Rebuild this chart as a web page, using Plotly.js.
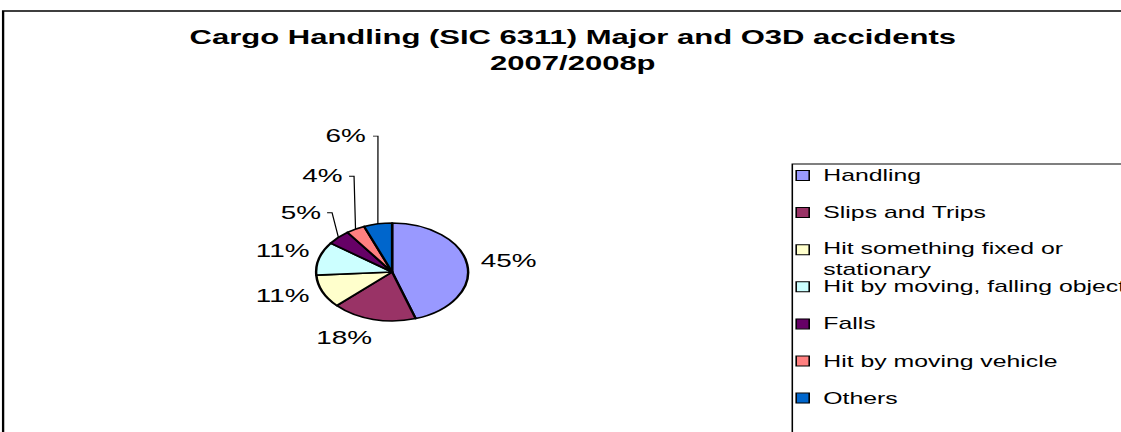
<!DOCTYPE html>
<html><head><meta charset="utf-8">
<script src="https://cdn.plot.ly/plotly-3.0.1.min.js"></script>
<style>
html,body{margin:0;padding:0;background:#fff;overflow:hidden;}
#chart{width:723px;height:432px;transform:scaleX(1.5505);transform-origin:0 0;}
</style></head><body><div id="chart"></div>
<script>
// ---- data ----
const categories = ["Handling", "Slips and Trips", "Hit something fixed or stationary", "Hit by moving, falling object", "Falls", "Hit by moving vehicle", "Others"];
const legendLabels = ["Handling", "Slips and Trips", "Hit something fixed or<br>stationary", "Hit by moving, falling object", "Falls", "Hit by moving vehicle", "Others"];
const percentages = [45, 18, 11, 11, 5, 4, 6];
const sliceColors = ["#9999FF", "#993366", "#FFFFCC", "#CCFFFF", "#660066", "#FF8080", "#0066CC"];
const titleText = "Cargo Handling (SIC 6311) Major and O3D accidents<br>2007/2008p";

// ---- layout / style constants (unscaled px) ----
const W = 723, H = 432;
const FONT = "Liberation Sans, Arial, sans-serif";
const pieGeom = {cx: 252.9, cy: 272, r: 49};
const labelDist = [1.54, 1.48, 1.52, 1.50, 1.71, 2.16, 2.84];
const labelNudge = [0.6, 10.5, 4.4, 0.4, 0, 3.6, -1.5];
const hasLeader = [false, false, false, false, true, true, true];
const legendBox = {x: 511, y: 164};
const legendRows = {y0: 175.5, pitch: 37.1, symX: 513.5, symW: 8.4, symH: 10, textX: 528.5, lineGap: 9};

const px = x => x / W;
const py = y => 1 - y / H;

const total = percentages.reduce((a, b) => a + b, 0);
const ctx = document.createElement("canvas").getContext("2d");
ctx.font = "18px 'Liberation Sans'";

const annotations = [];
const shapes = [];

// outer chart border
shapes.push({type: "rect", xref: "paper", yref: "paper", x0: px(2), x1: 1.05, y0: -0.05, y1: py(11),
  line: {color: "#000", width: 1.5}, fillcolor: "rgba(0,0,0,0)", layer: "below"});

// pie labels and leader lines, positioned from slice mid-angles
let cum = 0;
percentages.forEach((v, i) => {
  const mid = (cum + v / 2) / total * 360;
  cum += v;
  const th = (mid + labelNudge[i]) * Math.PI / 180;
  const d = labelDist[i] * pieGeom.r;
  const lx = pieGeom.cx + d * Math.sin(th);
  const ly = pieGeom.cy - d * Math.cos(th);
  const txt = Math.round(v / total * 100) + "%";
  annotations.push({xref: "paper", yref: "paper", x: px(lx), y: py(ly), xanchor: "center", yanchor: "middle",
    text: txt, showarrow: false, font: {family: FONT, size: 18, color: "#000"}});
  if (hasLeader[i]) {
    const w = ctx.measureText(txt).width;
    const sx = lx + w / 2 + 4.3;
    const tx = sx + 3.2;
    const tm = mid * Math.PI / 180;
    const ex = pieGeom.cx + pieGeom.r * Math.sin(tm);
    const ey = pieGeom.cy - pieGeom.r * Math.cos(tm);
    shapes.push({type: "path", xref: "paper", yref: "paper",
      path: `M${px(sx)},${py(ly)} L${px(tx)},${py(ly)} L${px(ex)},${py(ey)}`,
      line: {color: "#000", width: 0.8}});
  }
});

// legend (box, swatches, text)
shapes.push({type: "rect", xref: "paper", yref: "paper", x0: px(legendBox.x), x1: 1.05, y0: -0.05, y1: py(legendBox.y),
  line: {color: "#000", width: 1}, fillcolor: "rgba(0,0,0,0)"});
legendLabels.forEach((lab, i) => {
  const yc = legendRows.y0 + i * legendRows.pitch;
  shapes.push({type: "rect", xref: "paper", yref: "paper",
    x0: px(legendRows.symX), x1: px(legendRows.symX + legendRows.symW),
    y0: py(yc + legendRows.symH / 2), y1: py(yc - legendRows.symH / 2),
    fillcolor: sliceColors[i], line: {color: "#000", width: 1}});
  const nLines = lab.split("<br>").length;
  annotations.push({xref: "paper", yref: "paper", x: px(legendRows.textX), y: py(yc + (nLines - 1) * legendRows.lineGap),
    xanchor: "left", yanchor: "middle", align: "left", text: lab, showarrow: false,
    font: {family: FONT, size: 16, color: "#000"}});
});

const trace = {
  type: "pie", labels: categories, values: percentages, sort: false, direction: "clockwise", rotation: 0,
  marker: {colors: sliceColors, line: {color: "#000", width: 1.6}},
  textinfo: "none", hoverinfo: "label+percent", showlegend: false,
  domain: {x: [px(pieGeom.cx - pieGeom.r), px(pieGeom.cx + pieGeom.r)],
           y: [1 - (pieGeom.cy + pieGeom.r) / H, 1 - (pieGeom.cy - pieGeom.r) / H]}
};

const layout = {
  width: W, height: H, margin: {l: 0, r: 0, t: 0, b: 0, pad: 0},
  paper_bgcolor: "#fff", plot_bgcolor: "#fff", showlegend: false,
  title: {text: titleText, x: 0.511, xref: "paper", xanchor: "center", y: 1 - 44 / H, yref: "container", yanchor: "top",
    font: {family: FONT, size: 20, color: "#000", weight: "bold"}},
  annotations: annotations, shapes: shapes
};

Plotly.newPlot("chart", [trace], layout, {displayModeBar: false, staticPlot: true});
</script></body></html>
